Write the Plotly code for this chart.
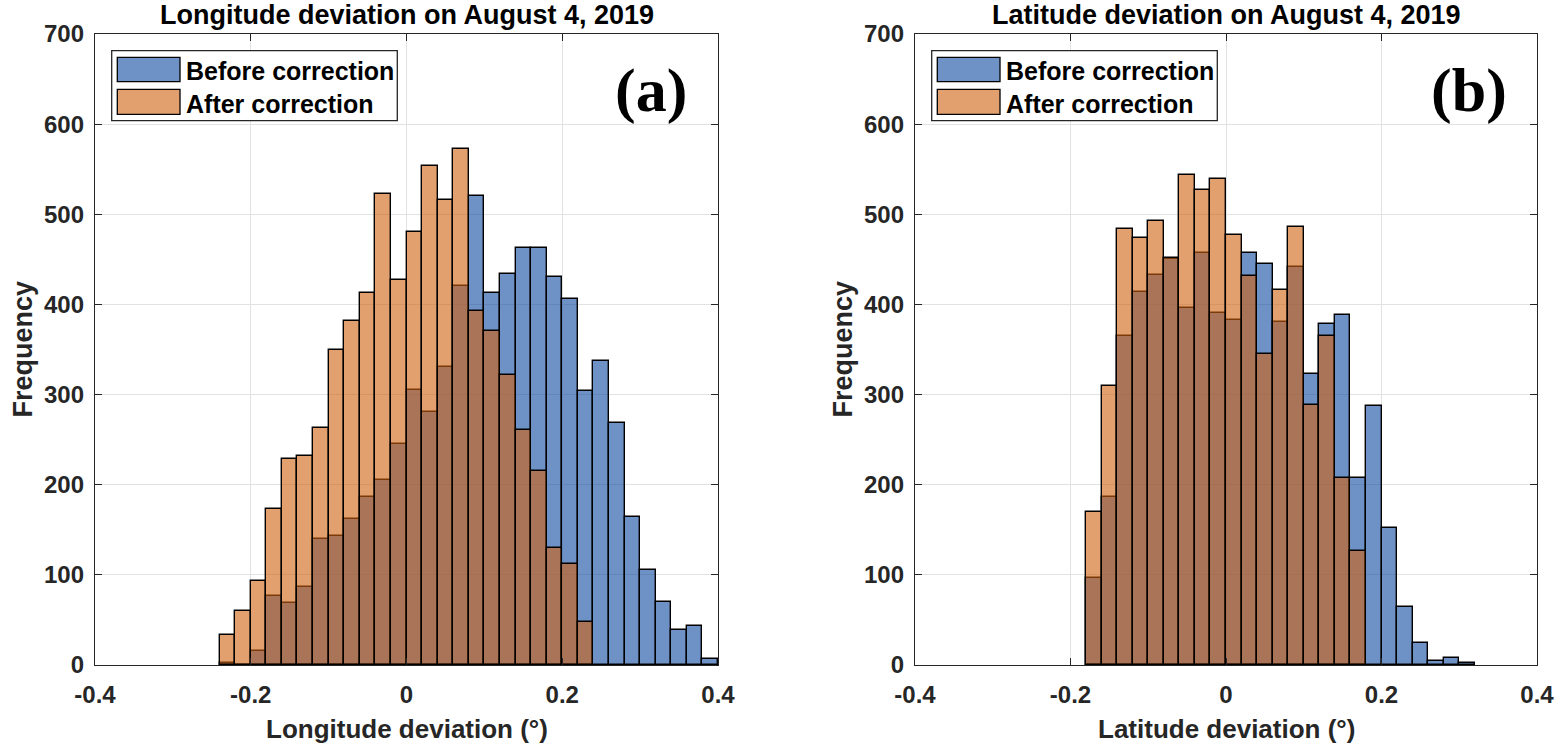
import plotly.graph_objects as go

# ---------------- data ----------------
bin_width = 0.02

lon_before_start = -0.24
lon_before = [2, 0, 16, 76, 69, 86, 140, 143, 162, 186, 205, 245, 305, 281, 331, 420,
              520, 413, 434, 463, 463, 430, 406, 304, 337, 269, 164, 105, 70, 39, 43, 7]
lon_after_start = -0.24
lon_after = [33, 60, 93, 173, 229, 232, 263, 350, 382, 413, 522, 427, 480, 554, 516, 572,
             393, 370, 322, 261, 215, 130, 112, 48]

lat_before_start = -0.18
lat_before = [97, 186, 365, 414, 433, 450, 396, 457, 390, 383, 457, 445, 381, 442, 323,
              378, 388, 208, 287, 152, 64, 24, 4, 8, 2]
lat_after_start = -0.18
lat_after = [170, 309, 484, 474, 493, 452, 544, 527, 539, 477, 431, 345, 416, 486, 288,
             365, 208, 127]

series_names = ["Before correction", "After correction"]
titles = ["Longitude deviation on August 4, 2019", "Latitude deviation on August 4, 2019"]
xlabels = ["Longitude deviation (°)", "Latitude deviation (°)"]
panel_tags = ["(a)", "(b)"]
x_ticks = [-0.4, -0.2, 0, 0.2, 0.4]
x_ticktext = ["-0.4", "-0.2", "0", "0.2", "0.4"]
y_ticks = [0, 100, 200, 300, 400, 500, 600, 700]

# ---------------- style ----------------
W, H = 1565, 746
BLUE_FILL = "rgba(15,73,160,0.6)"
ORANGE_FILL = "rgba(208,97,15,0.6)"
BLUE_SOLID = "#6f92c6"
ORANGE_SOLID = "#e3a06f"
AX = "#262626"
GRID = "#e2e2e2"
SANS = "Liberation Sans, Arial, sans-serif"
SERIF = "Liberation Serif, Times New Roman, serif"

# plot areas in page pixels: (left, right, top, bottom)
areas = [(95, 718, 34, 665), (915, 1537, 34, 665)]


def px_x(X):
    return X / W


def px_y(Y):
    return 1 - Y / H


def centers(start, counts):
    return [start + bin_width * (i + 0.5) for i in range(len(counts))]


fig = go.Figure()

panels = [
    (lon_before_start, lon_before, lon_after_start, lon_after),
    (lat_before_start, lat_before, lat_after_start, lat_after),
]

for k, (bs, bv, as_, av) in enumerate(panels):
    xa = "x" if k == 0 else "x2"
    ya = "y" if k == 0 else "y2"
    fig.add_trace(go.Bar(x=centers(bs, bv), y=bv, width=bin_width, name=series_names[0],
                         marker=dict(color=BLUE_FILL, line=dict(color="black", width=1.4)),
                         xaxis=xa, yaxis=ya, showlegend=False))
    fig.add_trace(go.Bar(x=centers(as_, av), y=av, width=bin_width, name=series_names[1],
                         marker=dict(color=ORANGE_FILL, line=dict(color="black", width=1.4)),
                         xaxis=xa, yaxis=ya, showlegend=False))

axis_common = dict(
    showgrid=True, gridcolor=GRID, gridwidth=1,
    showline=True, linecolor=AX, linewidth=1.3, mirror="ticks",
    ticks="inside", ticklen=7, tickcolor=AX, tickwidth=1.2,
    zeroline=False, fixedrange=True, automargin=False,
    tickfont=dict(family=SANS, size=24, color=AX, weight="bold"),
)

layout_axes = {}
for k, (l, r, t, b) in enumerate(areas):
    sfx = "" if k == 0 else "2"
    layout_axes["xaxis" + sfx] = dict(
        axis_common, domain=[px_x(l), px_x(r)], range=[-0.4, 0.4],
        tickvals=x_ticks, ticktext=x_ticktext, anchor="y" + sfx,
        ticklabelstandoff=8,
    )
    layout_axes["yaxis" + sfx] = dict(
        axis_common, domain=[px_y(b), px_y(t)], range=[0, 700],
        tickvals=y_ticks, anchor="x" + sfx, ticklabelstandoff=5,
    )

annotations = []
shapes = []
for k, (l, r, t, b) in enumerate(areas):
    sfx = "" if k == 0 else "2"
    pw, ph = r - l, b - t

    def dx(off):
        return off / pw

    def dy(off):
        return 1 - off / ph

    xr, yr = "x" + sfx + " domain", "y" + sfx + " domain"
    # title
    annotations.append(dict(text=titles[k], xref=xr, x=0.5, yref="paper", y=px_y(15),
                            xanchor="center", yanchor="middle", showarrow=False,
                            font=dict(family=SANS, size=27, color="black", weight="bold")))
    # x label
    annotations.append(dict(text=xlabels[k], xref=xr, x=0.5, yref="paper", y=px_y(729),
                            xanchor="center", yanchor="middle", showarrow=False,
                            font=dict(family=SANS, size=26, color=AX, weight="bold")))
    # y label
    annotations.append(dict(text="Frequency", xref="paper", x=px_x(l - 73), yref=yr, y=0.5,
                            xanchor="center", yanchor="middle", showarrow=False, textangle=-90,
                            font=dict(family=SANS, size=27, color=AX, weight="bold")))
    # panel tag
    annotations.append(dict(text=panel_tags[k], xref=xr, x=dx(594), yref=yr, y=dy(56),
                            xanchor="right", yanchor="middle", showarrow=False,
                            font=dict(family=SERIF, size=62, color="black", weight="bold")))
    # legend box
    shapes.append(dict(type="rect", xref=xr, yref=yr, x0=dx(16.7), x1=dx(302.3),
                       y0=dy(16.7), y1=dy(86.7), line=dict(color=AX, width=1.3),
                       fillcolor="white", layer="above"))
    for j, (col, yc0, yc1, ytxt) in enumerate([(BLUE_SOLID, 23.3, 47.7, 37),
                                                 (ORANGE_SOLID, 55.3, 80.3, 70)]):
        shapes.append(dict(type="rect", xref=xr, yref=yr, x0=dx(22.3), x1=dx(85),
                           y0=dy(yc0), y1=dy(yc1), line=dict(color="black", width=1.3),
                           fillcolor=col, layer="above"))
        annotations.append(dict(text=series_names[j], xref=xr, x=dx(89), yref=yr, y=dy(ytxt),
                                xanchor="left", yanchor="middle", showarrow=False,
                                font=dict(family=SANS, size=25, color="black", weight="bold")))

fig.update_layout(
    width=W, height=H, autosize=False,
    margin=dict(l=0, r=0, t=0, b=0, pad=0, autoexpand=False),
    paper_bgcolor="white", plot_bgcolor="white",
    barmode="overlay", bargap=0,
    annotations=annotations, shapes=shapes,
    **layout_axes,
)

fig.write_html("out.html", config={"displayModeBar": False},
               post_script="document.body.style.margin='0';document.body.style.overflow='hidden';")
